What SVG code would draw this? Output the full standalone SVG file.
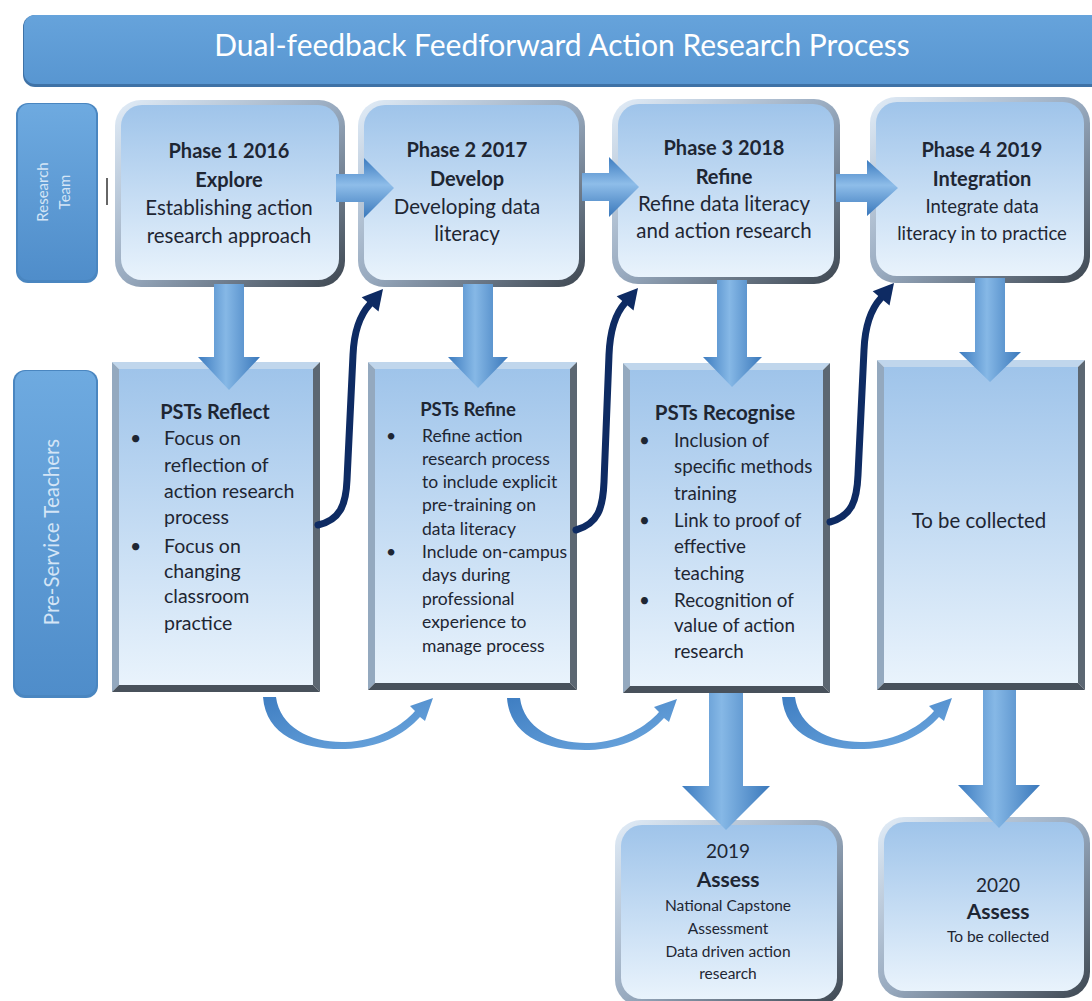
<svg xmlns="http://www.w3.org/2000/svg" width="1092" height="1001" viewBox="0 0 1092 1001">
<defs>
<linearGradient id="gBox" x1="0" y1="0" x2="0" y2="1"><stop offset="0" stop-color="#9fc4ea"/><stop offset="1" stop-color="#e9f3fc"/></linearGradient>
<linearGradient id="gBevel" x1="0" y1="0" x2="1" y2="1"><stop offset="0" stop-color="#e2edf8"/><stop offset="0.5" stop-color="#98aabf"/><stop offset="1" stop-color="#3d4650"/></linearGradient>
<linearGradient id="gLabel" x1="0" y1="0" x2="0" y2="1"><stop offset="0" stop-color="#6eaae0"/><stop offset="1" stop-color="#4f8dca"/></linearGradient>
<linearGradient id="gTitle" x1="0" y1="0" x2="0" y2="1"><stop offset="0" stop-color="#66a3db"/><stop offset="1" stop-color="#5896d1"/></linearGradient>
<linearGradient id="gArrowH" x1="0" y1="0" x2="0" y2="1"><stop offset="0" stop-color="#3d7cc0"/><stop offset="0.45" stop-color="#8ebde9"/><stop offset="1" stop-color="#3a78bb"/></linearGradient>
<linearGradient id="gArrowV" x1="0" y1="0" x2="1" y2="0"><stop offset="0" stop-color="#3d7cc0"/><stop offset="0.45" stop-color="#86b8e6"/><stop offset="1" stop-color="#3a78bb"/></linearGradient>
<linearGradient id="gCurve" x1="0" y1="0" x2="1" y2="1"><stop offset="0" stop-color="#3f7ec2"/><stop offset="1" stop-color="#6ea8df"/></linearGradient>
<path id="lightCurve" d="M263,697 C266,737 305,750 345,749 C378,748 404,735 420,717 L425,721 L433,698 L410,706 L415,711 C403,725 378,741 345,742 C312,743 280,728 276,697 Z"/>
<style>
text{font-family:Lato,"Liberation Sans",sans-serif;fill:#1e2633}
.c{text-anchor:middle}
.b{font-weight:bold}
.lbl{fill:#d4e5f6;text-anchor:middle}
.bt{fill:#c0d6ec}.bl{fill:#94a9bf}.br{fill:#5c6772}.bb{fill:#48515b}
.in{fill:url(#gBox)}
.ob{fill:url(#gBevel)}
.ah{fill:url(#gArrowH)}
.av{fill:url(#gArrowV)}
.nv{fill:none;stroke:#0e2b63;stroke-width:7;stroke-linecap:round}
.nh{fill:#0e2b63}
.lc{fill:url(#gCurve)}
</style>
</defs>
<rect width="1092" height="1001" fill="#ffffff"/>

<g id="title">
<rect x="23" y="15" width="1090" height="72" rx="12" fill="#3f72a6"/>
<rect x="24" y="15" width="1090" height="69" rx="11" fill="url(#gTitle)"/>
<text x="562" y="56" class="c" style="fill:#ffffff;font-size:30px">Dual-feedback Feedforward Action Research Process</text>
</g>

<g id="label-research-team">
<rect x="16" y="103" width="82" height="180" rx="12" fill="#4a86c0"/>
<rect x="18" y="104" width="78" height="176" rx="11" fill="url(#gLabel)"/>
<text transform="translate(48,192) rotate(-90)" class="lbl" style="font-size:15px">Research</text>
<text transform="translate(70,192) rotate(-90)" class="lbl" style="font-size:15px">Team</text>
</g>
<line x1="107" y1="178" x2="107" y2="205" stroke="#333" stroke-width="1.5"/>

<g id="label-pst">
<rect x="13" y="370" width="85" height="328" rx="12" fill="#4a86c0"/>
<rect x="15" y="371" width="81" height="324" rx="11" fill="url(#gLabel)"/>
<text transform="translate(59,532) rotate(-90)" class="lbl" style="font-size:20.5px">Pre-Service Teachers</text>
</g>

<g id="phase1">
<rect x="115" y="100" width="230" height="187" rx="26" class="ob"/>
<rect x="121" y="105" width="218" height="175" rx="21" class="in"/>
<text x="229" y="158" class="c b" style="font-size:20px">Phase 1 2016</text>
<text x="229" y="187" class="c b" style="font-size:20px">Explore</text>
<text x="229" y="215" class="c" style="font-size:20.5px">Establishing action</text>
<text x="229" y="243" class="c" style="font-size:20.5px">research approach</text>
</g>

<g id="phase2">
<rect x="358" y="100" width="227" height="187" rx="26" class="ob"/>
<rect x="364" y="105" width="215" height="175" rx="21" class="in"/>
<text x="467" y="157" class="c b" style="font-size:20px">Phase 2 2017</text>
<text x="467" y="186" class="c b" style="font-size:20px">Develop</text>
<text x="467" y="214" class="c" style="font-size:20.5px">Developing data</text>
<text x="467" y="241" class="c" style="font-size:20.5px">literacy</text>
</g>

<g id="phase3">
<rect x="612" y="99" width="228" height="185" rx="26" class="ob"/>
<rect x="618" y="104" width="216" height="173" rx="21" class="in"/>
<text x="724" y="155" class="c b" style="font-size:20px">Phase 3 2018</text>
<text x="724" y="184" class="c b" style="font-size:20px">Refine</text>
<text x="724" y="211" class="c" style="font-size:20.5px">Refine data literacy</text>
<text x="724" y="238" class="c" style="font-size:20.5px">and action research</text>
</g>

<g id="phase4">
<rect x="870" y="97" width="220" height="186" rx="26" class="ob"/>
<rect x="876" y="102" width="208" height="174" rx="21" class="in"/>
<text x="982" y="157" class="c b" style="font-size:20px">Phase 4 2019</text>
<text x="982" y="186" class="c b" style="font-size:20px">Integration</text>
<text x="982" y="213" class="c" style="font-size:18.5px">Integrate data</text>
<text x="982" y="240" class="c" style="font-size:18.5px">literacy in to practice</text>
</g>

<g id="pst-reflect">
<polygon class="bt" points="112,362 320,362 313,369 119,369"/>
<polygon class="bl" points="112,362 119,369 119,685 112,692"/>
<polygon class="br" points="320,362 320,692 313,685 313,369"/>
<polygon class="bb" points="112,692 320,692 313,685 119,685"/>
<rect x="119" y="369" width="194" height="316" class="in"/>
<text x="215" y="419" class="c b" style="font-size:20px">PSTs Reflect</text>
<g style="font-size:19.5px">
<text x="130" y="445">•</text><text x="164" y="445">Focus on</text>
<text x="164" y="472">reflection of</text>
<text x="164" y="498">action research</text>
<text x="164" y="524">process</text>
<text x="130" y="553">•</text><text x="164" y="553">Focus on</text>
<text x="164" y="578">changing</text>
<text x="164" y="603">classroom</text>
<text x="164" y="630">practice</text>
</g>
</g>

<g id="pst-refine">
<polygon class="bt" points="368,362 577,362 570,369 375,369"/>
<polygon class="bl" points="368,362 375,369 375,683 368,690"/>
<polygon class="br" points="577,362 577,690 570,683 570,369"/>
<polygon class="bb" points="368,690 577,690 570,683 375,683"/>
<rect x="375" y="369" width="195" height="314" class="in"/>
<text x="468" y="416" class="c b" style="font-size:18.5px">PSTs Refine</text>
<g style="font-size:17.5px">
<text x="386" y="442">•</text><text x="422" y="442">Refine action</text>
<text x="422" y="465">research process</text>
<text x="422" y="488">to include explicit</text>
<text x="422" y="511">pre-training on</text>
<text x="422" y="535">data literacy</text>
<text x="386" y="558">•</text><text x="422" y="558">Include on-campus</text>
<text x="422" y="581">days during</text>
<text x="422" y="605">professional</text>
<text x="422" y="628">experience to</text>
<text x="422" y="652">manage process</text>
</g>
</g>

<g id="pst-recognise">
<polygon class="bt" points="623,363 830,363 823,370 630,370"/>
<polygon class="bl" points="623,363 630,370 630,686 623,693"/>
<polygon class="br" points="830,363 830,693 823,686 823,370"/>
<polygon class="bb" points="623,693 830,693 823,686 630,686"/>
<rect x="630" y="370" width="193" height="316" class="in"/>
<text x="725" y="420" class="c b" style="font-size:20.5px">PSTs Recognise</text>
<g style="font-size:18.8px">
<text x="639" y="447">•</text><text x="674" y="447">Inclusion of</text>
<text x="674" y="473">specific methods</text>
<text x="674" y="500">training</text>
<text x="639" y="527">•</text><text x="674" y="527">Link to proof of</text>
<text x="674" y="553">effective</text>
<text x="674" y="580">teaching</text>
<text x="639" y="607">•</text><text x="674" y="607">Recognition of</text>
<text x="674" y="632">value of action</text>
<text x="674" y="658">research</text>
</g>
</g>

<g id="pst-collect">
<polygon class="bt" points="877,360 1085,360 1078,367 884,367"/>
<polygon class="bl" points="877,360 884,367 884,683 877,690"/>
<polygon class="br" points="1085,360 1085,690 1078,683 1078,367"/>
<polygon class="bb" points="877,690 1085,690 1078,683 884,683"/>
<rect x="884" y="367" width="194" height="316" class="in"/>
<text x="979" y="528" class="c" style="font-size:20.4px">To be collected</text>
</g>

<g id="assess-2019">
<rect x="615" y="820" width="228" height="186" rx="26" class="ob"/>
<rect x="621" y="825" width="216" height="174" rx="21" class="in"/>
<text x="728" y="858" class="c" style="font-size:19px">2019</text>
<text x="728" y="887" class="c b" style="font-size:21px">Assess</text>
<text x="728" y="911" class="c" style="font-size:15.5px">National Capstone</text>
<text x="728" y="934" class="c" style="font-size:15.5px">Assessment</text>
<text x="728" y="957" class="c" style="font-size:15.5px">Data driven action</text>
<text x="728" y="979" class="c" style="font-size:15.5px">research</text>
</g>

<g id="assess-2020">
<rect x="878" y="817" width="212" height="181" rx="26" class="ob"/>
<rect x="884" y="822" width="200" height="169" rx="21" class="in"/>
<text x="998" y="892" class="c" style="font-size:19px">2020</text>
<text x="998" y="919" class="c b" style="font-size:21px">Assess</text>
<text x="998" y="942" class="c" style="font-size:15.5px">To be collected</text>
</g>

<g id="connectors">
<path class="ah" d="M336,174 L364,174 L364,158 L394,188 L364,218 L364,202 L336,202 Z"/>
<path class="ah" d="M582,173 L609,173 L609,157 L639,187 L609,217 L609,201 L582,201 Z"/>
<path class="ah" d="M836,174 L867,174 L867,160 L898,188 L867,216 L867,202 L836,202 Z"/>
<path class="av" d="M214,284 L244,284 L244,357 L260,357 L229,390 L198,357 L214,357 Z"/>
<path class="av" d="M463,284 L493,284 L493,357 L508,357 L478,388 L448,357 L463,357 Z"/>
<path class="av" d="M717,280 L747,280 L747,357 L762,357 L732,387 L703,357 L717,357 Z"/>
<path class="av" d="M975,278 L1005,278 L1005,352 L1021,352 L990,382 L959,352 L975,352 Z"/>
<path class="av" d="M709,693 L743,693 L743,786 L770,786 L726,830 L682,786 L709,786 Z"/>
<path class="av" d="M983,690 L1016,690 L1016,785 L1040,785 L999,828 L958,785 L983,785 Z"/>
<path class="nv" d="M318,525 C340,520 346,505 347,480 L353,355 C354,330 360,315 370,304"/>
<polygon class="nh" points="383,289 378.5,311.4 361.7,297.2"/>
<path class="nv" d="M576,530 C598,524 603,508 604,482 L609,355 C610,330 615,314 625,303"/>
<polygon class="nh" points="638,288 633.5,310.4 616.7,296.2"/>
<path class="nv" d="M830,522 C852,516 857,500 858,475 L864,350 C865,325 871,309 881,298"/>
<polygon class="nh" points="894,283 889.5,305.4 872.7,291.2"/>
<use href="#lightCurve" class="lc"/>
<use href="#lightCurve" class="lc" transform="translate(244,1)"/>
<use href="#lightCurve" class="lc" transform="translate(519,0)"/>
</g>
</svg>
